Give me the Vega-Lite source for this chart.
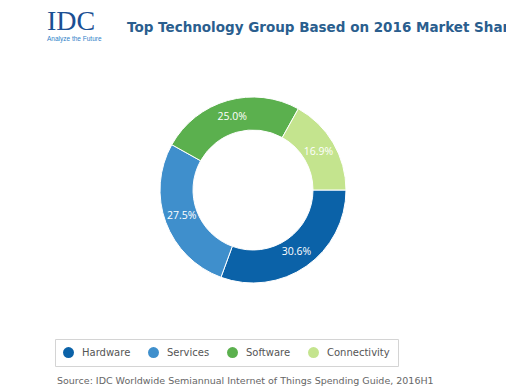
{
  "$schema": "https://vega.github.io/schema/vega-lite/v6.json",
  "padding": {"left": 0, "top": 8, "right": 0, "bottom": 0},
  "background": "white",
  "title": {
    "text": "IDC",
    "subtitle": "Analyze the Future",
    "anchor": "start",
    "frame": "group",
    "dx": 47,
    "dy": 22,
    "font": "Liberation Serif",
    "fontSize": 28,
    "fontWeight": "normal",
    "color": "#1b4f93",
    "subtitleFont": "Liberation Sans",
    "subtitleFontSize": 6.5,
    "subtitleColor": "#2f7fc8",
    "subtitlePadding": 0,
    "offset": 0
  },
  "vconcat": [
    {
      "title": {
        "text": "Source: IDC Worldwide Semiannual Internet of Things Spending Guide, 2016H1",
        "orient": "bottom",
        "anchor": "start",
        "frame": "group",
        "dx": 57,
        "font": "DejaVu Sans",
        "fontSize": 9.5,
        "fontWeight": "normal",
        "color": "#666666",
        "offset": 51
      },
      "vconcat": [
        {
          "title": {
            "text": "Top Technology Group Based on 2016 Market Share",
            "anchor": "start",
            "frame": "group",
            "dx": 127,
            "font": "DejaVu Sans",
            "fontSize": 13.5,
            "fontWeight": "bold",
            "color": "#2a5e8e",
            "offset": 21
          },
          "width": 506,
          "height": 270,
          "data": {
            "values": [
              {"group": "Hardware", "share": 0.306},
              {"group": "Services", "share": 0.275},
              {"group": "Software", "share": 0.25},
              {"group": "Connectivity", "share": 0.169}
            ]
          },
          "encoding": {
            "theta": {"field": "share", "type": "quantitative", "stack": true, "scale": {"range": [1.5708, 7.854]}},
            "order": {"field": "share", "sort": "descending"}
          },
          "layer": [
            {
              "mark": {"type": "arc", "outerRadius": 93, "innerRadius": 60, "stroke": "white", "strokeWidth": 1},
              "encoding": {
                "color": {
                  "field": "group",
                  "type": "nominal",
                  "sort": ["Hardware", "Services", "Software", "Connectivity"],
                  "scale": {
                    "domain": ["Hardware", "Services", "Software", "Connectivity"],
                    "range": ["#0b62a8", "#3f8fcc", "#5bb04e", "#c4e48e"]
                  },
                  "legend": {
                    "title": null,
                    "orient": "none",
                    "legendX": 55,
                    "legendY": 284,
                    "direction": "horizontal",
                    "symbolType": "circle",
                    "symbolSize": 120,
                    "symbolStrokeWidth": 0,
                    "labelFont": "DejaVu Sans",
                    "labelFontSize": 10,
                    "labelColor": "#555555",
                    "labelOffset": 8,
                    "columnPadding": 17,
                    "padding": 8,
                    "strokeColor": "#d4d4d4",
                    "fillColor": "white"
                  }
                }
              }
            },
            {
              "mark": {"type": "text", "radius": 76, "fill": "white", "font": "Open Sans", "fontSize": 10.5},
              "encoding": {
                "text": {"field": "share", "type": "quantitative", "format": ".1%"}
              }
            }
          ]
        }
      ]
    }
  ],
  "config": {
    "view": {"stroke": null},
    "concat": {"spacing": 0}
  }
}
